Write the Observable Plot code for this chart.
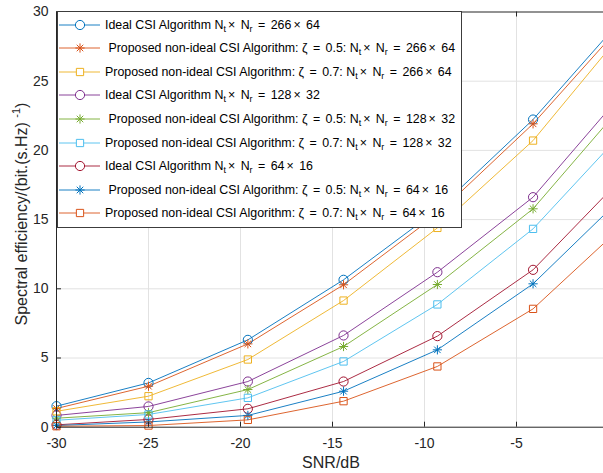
<!DOCTYPE html>
<html><head><meta charset="utf-8">
<script src="https://cdn.jsdelivr.net/npm/d3@7"></script>
<script src="https://cdn.jsdelivr.net/npm/@observablehq/plot@0.6"></script>
<style>
html,body{margin:0;padding:0;background:#fff;overflow:hidden;}
#wrap{position:relative;width:603px;height:473px;overflow:hidden;font-family:"Liberation Sans",Arial,Helvetica,sans-serif;}
#legend{position:absolute;left:57px;top:11px;width:405px;height:217px;background:#fff;border:1px solid #3c3c3c;box-sizing:border-box;}
.row{position:absolute;left:0;height:24px;width:400px;}
.row svg{position:absolute;left:0;top:0;}
.row .lbl{position:absolute;left:47px;top:0;line-height:24px;font-size:12.4px;color:#000;white-space:pre;}
.lbl sub{font-size:0.72em;vertical-align:-0.35em;line-height:0;}
.lbl .op{margin:0 2px;}
</style></head>
<body><div id="wrap"><div id="chart"></div><div id="legend"></div></div>
<script>
// SNR values (dB) at which markers are drawn
const snr = [-30, -25, -19.6, -14.4, -9.3, -4.1, 0];
// Spectral efficiency series
const ideal266   = [1.52, 3.20, 6.31, 10.65, 15.7, 22.23, 28.4];
const prop05_266 = [1.35, 2.96, 6.02, 10.29, 15.4, 21.92, 28.0];
const prop07_266 = [1.15, 2.24, 4.89, 9.15, 14.4, 20.71, 27.3];
const ideal128   = [0.85, 1.50, 3.30, 6.63, 11.2, 16.62, 22.95];
const prop05_128 = [0.65, 1.05, 2.72, 5.83, 10.31, 15.78, 22.1];
const prop07_128 = [0.50, 0.92, 2.12, 4.75, 8.87, 14.33, 20.2];
const ideal64    = [0.17, 0.56, 1.33, 3.30, 6.58, 11.37, 17.0];
const prop05_64  = [0.12, 0.38, 0.85, 2.60, 5.59, 10.36, 15.65];
const prop07_64  = [0.07, 0.12, 0.53, 1.88, 4.39, 8.55, 13.6];
const seriesNames = [
  "Ideal CSI Algorithm N_t× N_r = 266× 64",
  " Proposed non-ideal CSI Algorithm: ζ = 0.5: N_t× N_r = 266× 64",
  "Proposed non-ideal CSI Algorithm: ζ = 0.7: N_t× N_r = 266× 64",
  "Ideal CSI Algorithm N_t× N_r = 128× 32",
  " Proposed non-ideal CSI Algorithm: ζ = 0.5: N_t× N_r = 128× 32",
  "Proposed non-ideal CSI Algorithm: ζ = 0.7: N_t× N_r = 128× 32",
  "Ideal CSI Algorithm N_t× N_r = 64× 16",
  " Proposed non-ideal CSI Algorithm: ζ = 0.5: N_t× N_r = 64× 16",
  "Proposed non-ideal CSI Algorithm: ζ = 0.7: N_t× N_r = 64× 16"
];
const seriesColors = ["#0072BD","#D95319","#EDB120","#7E2F8E","#77AC30","#4DBEEE","#A2142F","#0072BD","#D95319"];
const seriesMarkers = ["circle","star","square","circle","star","square","circle","star","square"];
const xTicks = [-30, -25, -20, -15, -10, -5, 0];
const yTicks = [0, 5, 10, 15, 20, 25, 30];
const xLabel = "SNR/dB";
const yLabel = "Spectral efficiency/(bit.(s.Hz)";

const allSeries = [ideal266, prop05_266, prop07_266, ideal128, prop05_128, prop07_128, ideal64, prop05_64, prop07_64];
const data = allSeries.flatMap((vals, i) => vals.map((v, j) => ({s: i, x: snr[j], y: v, color: seriesColors[i], m: seriesMarkers[i]})));

const star8 = {draw(ctx, size) {
  const r = Math.sqrt(size / Math.PI), d = r * Math.SQRT1_2;
  ctx.moveTo(-r, 0); ctx.lineTo(r, 0); ctx.moveTo(0, -r); ctx.lineTo(0, r);
  ctx.moveTo(-d, -d); ctx.lineTo(d, d); ctx.moveTo(-d, d); ctx.lineTo(d, -d);
}};
const symOf = {circle: "circle", star: star8, square: "square"};
const rOf = {circle: 4.6, star: 4.6, square: 4.1};

const W = 603, H = 473, mL = 56, mR = -5, mT = 11.5, mB = 46.3;
const pw = W - mL - mR, ph = H - mT - mB;
const axisColor = "#262626", gridColor = "#e2e2e2";

const chart = Plot.plot({
  width: W, height: H, marginLeft: mL, marginRight: mR, marginTop: mT, marginBottom: mB,
  style: {fontFamily: "'Liberation Sans', Arial, sans-serif", fontSize: "14px", color: axisColor, background: "white"},
  color: {type: "identity"},
  x: {domain: [-30, 0], ticks: xTicks, tickSize: 0, tickPadding: 11, label: null, tickFormat: d => d === 0 ? "" : String(d)},
  y: {domain: [0, 30], ticks: yTicks, tickSize: 0, tickPadding: 8, label: null, tickFormat: d => String(d)},
  marks: [
    Plot.ruleX(xTicks.slice(1, -1), {x: d => d, stroke: gridColor, strokeWidth: 1}),
    Plot.ruleY(yTicks.slice(1, -1), {y: d => d, stroke: gridColor, strokeWidth: 1}),
    Plot.line(data, {x: "x", y: "y", z: "s", stroke: "color", strokeWidth: 0.9}),
    ...["circle", "star", "square"].map(m => Plot.dot(data.filter(d => d.m === m), {
      x: "x", y: "y", stroke: "color", fill: "none", r: rOf[m], symbol: symOf[m], strokeWidth: 1
    })),
    Plot.tickX(xTicks, {x: d => d, insetTop: ph - 5, stroke: axisColor}),
    Plot.tickX(xTicks, {x: d => d, insetBottom: ph - 5, stroke: axisColor}),
    Plot.tickY(yTicks, {y: d => d, insetRight: pw - 5, stroke: axisColor}),
    Plot.tickY(yTicks, {y: d => d, insetLeft: pw - 5, stroke: axisColor}),
    Plot.frame({stroke: axisColor, strokeWidth: 1})
  ]
});
document.getElementById("chart").appendChild(chart);

const svg = d3.select(chart);
svg.append("text").attr("x", mL + pw / 2 - 1).attr("y", 467.5).attr("text-anchor", "middle")
  .attr("fill", axisColor).style("font-size", "16px").text(xLabel);
const yl = svg.append("text").attr("transform", "translate(27," + (mT + ph / 2 - 5) + ") rotate(-90)")
  .attr("text-anchor", "middle").attr("fill", axisColor).style("font-size", "16px");
yl.append("tspan").text(yLabel + " ");
yl.append("tspan").attr("dy", -7).style("font-size", "11px").text("-1");
yl.append("tspan").attr("dy", 7).text(")");

// Legend
const legend = d3.select("#legend");
seriesNames.forEach((name, i) => {
  const row = legend.append("div").attr("class", "row").style("top", (0.6 + i * 23.6) + "px");
  const s = row.append("svg").attr("width", 46).attr("height", 24);
  s.append("line").attr("x1", 1).attr("x2", 42).attr("y1", 12).attr("y2", 12)
    .attr("stroke", seriesColors[i]).attr("stroke-width", 0.9);
  const m = seriesMarkers[i];
  const sym = d3.symbol(m === "circle" ? d3.symbolCircle : m === "square" ? d3.symbolSquare : star8, rOf[m] * rOf[m] * Math.PI);
  s.append("path").attr("d", sym()).attr("transform", "translate(22,12)")
    .attr("fill", m === "star" ? "none" : "#fff").attr("stroke", seriesColors[i]).attr("stroke-width", 1);
  const html = name
    .replace(/([×=])|_([tr])/g, (all, op, sub) => op ? '<span class="op">' + op + '</span>' : '<sub>' + sub + '</sub>');
  row.append("div").attr("class", "lbl").html(html);
});
</script></body></html>
